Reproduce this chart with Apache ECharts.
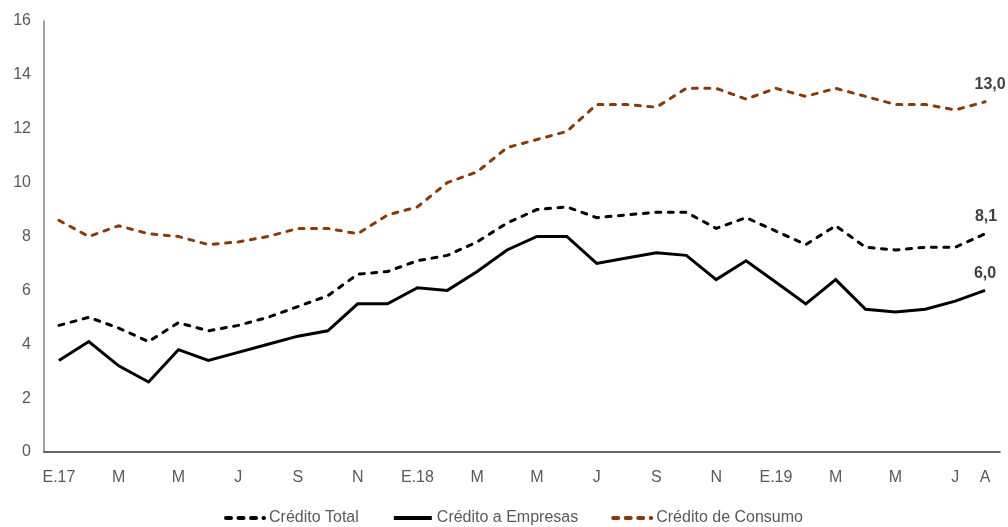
<!DOCTYPE html>
<html>
<head>
<meta charset="utf-8">
<script src="https://cdn.jsdelivr.net/npm/echarts@6/dist/echarts.min.js"></script>
<style>
  html, body { margin: 0; padding: 0; background: #fff; }
  #chart { width: 1008px; height: 527px; }
</style>
</head>
<body>
<div id="chart"></div>
<script>
// Monthly categories, Jan 2017 – Aug 2019
const months = [
  'E.17','F','M','A','M','J','J','A','S','O','N','D',
  'E.18','F','M','A','M','J','J','A','S','O','N','D',
  'E.19','F','M','A','M','J','J','A'
];

// Annual growth rates (%)
const creditoTotal = [
  4.7, 5.0, 4.6, 4.1, 4.8, 4.5, 4.7, 5.0, 5.4, 5.8, 6.6, 6.7,
  7.1, 7.3, 7.8, 8.5, 9.0, 9.1, 8.7, 8.8, 8.9, 8.9, 8.3, 8.7,
  8.2, 7.7, 8.4, 7.6, 7.5, 7.6, 7.6, 8.1
];
const creditoEmpresas = [
  3.4, 4.1, 3.2, 2.6, 3.8, 3.4, 3.7, 4.0, 4.3, 4.5, 5.5, 5.5,
  6.1, 6.0, 6.7, 7.5, 8.0, 8.0, 7.0, 7.2, 7.4, 7.3, 6.4, 7.1,
  6.3, 5.5, 6.4, 5.3, 5.2, 5.3, 5.6, 6.0
];
const creditoConsumo = [
  8.6, 8.0, 8.4, 8.1, 8.0, 7.7, 7.8, 8.0, 8.3, 8.3, 8.1, 8.8,
  9.1, 10.0, 10.4, 11.3, 11.6, 11.9, 12.9, 12.9, 12.8, 13.5, 13.5, 13.1,
  13.5, 13.2, 13.5, 13.2, 12.9, 12.9, 12.7, 13.0
];

const seriesNames = ['Crédito Total', 'Crédito a Empresas', 'Crédito de Consumo'];

const FONT = "'Liberation Sans', Arial, sans-serif";
const lastIdx = months.length - 1;

// Value tag on the final point of each line
function endMark(data, offset) {
  const v = data[lastIdx];
  return {
    symbol: 'circle',
    symbolSize: 0,
    silent: true,
    animation: false,
    data: [{ coord: [lastIdx, v], value: v }],
    label: {
      show: true,
      position: 'top',
      distance: 9,
      offset: offset,
      fontFamily: FONT,
      fontSize: 16,
      fontWeight: 'bold',
      color: '#404040',
      formatter: p => Number(p.value).toFixed(1).replace('.', ',')
    }
  };
}

function lineSeries(name, data, color, dashed, offset) {
  return {
    name: name,
    type: 'line',
    data: data,
    symbol: 'none',
    animation: false,
    lineStyle: {
      color: color,
      width: 3,
      type: dashed ? [5, 7.5] : 'solid',
      cap: dashed ? 'round' : 'butt',
      join: 'miter'
    },
    itemStyle: { color: color },
    markPoint: endMark(data, offset),
    z: 3
  };
}

const chart = echarts.init(document.getElementById('chart'), null, { renderer: 'canvas' });

chart.setOption({
  backgroundColor: '#ffffff',
  animation: false,
  grid: { left: 44, right: 8, top: 21, bottom: 75, containLabel: false },
  xAxis: {
    type: 'category',
    data: months,
    boundaryGap: true,
    axisLine: { lineStyle: { color: '#333333', width: 1.5 } },
    axisTick: { show: false },
    axisLabel: {
      interval: (i) => i % 2 === 0 || i === lastIdx,
      fontFamily: FONT,
      fontSize: 16,
      color: '#595959',
      margin: 18
    },
    splitLine: { show: false }
  },
  yAxis: {
    type: 'value',
    min: 0,
    max: 16,
    interval: 2,
    axisLine: { show: true, lineStyle: { color: '#808080', width: 1.5 } },
    axisTick: { show: false },
    axisLabel: {
      fontFamily: FONT,
      fontSize: 16,
      color: '#595959',
      margin: 13
    },
    splitLine: { show: false }
  },
  legend: {
    data: seriesNames,
    bottom: 1,
    left: 224,
    padding: 0,
    itemWidth: 38,
    itemHeight: 14,
    itemGap: 33,
    itemStyle: { opacity: 0 },
    lineStyle: { width: 4 },
    textStyle: { fontFamily: FONT, fontSize: 16, color: '#595959' }
  },
  series: [
    lineSeries(seriesNames[0], creditoTotal, '#000000', true, [1, 0]),
    lineSeries(seriesNames[1], creditoEmpresas, '#000000', false, [0, 0]),
    lineSeries(seriesNames[2], creditoConsumo, '#843C0C', true, [5, 0])
  ]
});
</script>
</body>
</html>
